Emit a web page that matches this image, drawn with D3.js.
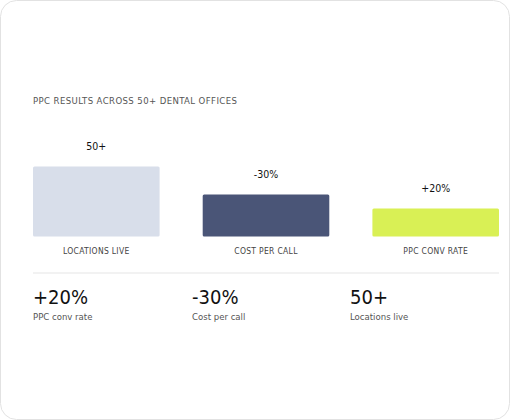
<!DOCTYPE html><html><head><meta charset="utf-8">
<script src="https://cdn.jsdelivr.net/npm/d3@7"></script>
<style>body{margin:0;background:#fff}text{font-family:"DejaVu Sans Condensed","DejaVu Sans",sans-serif}</style></head><body>
<svg id="c" width="510" height="420"></svg>
<script>
const categories=["LOCATIONS LIVE","COST PER CALL","PPC CONV RATE"];
const values=[50,30,20];
const valueLabels=["50+","-30%","+20%"];
const colors=["#d8deea","#4a5577","#d9f055"];
const statValues=["+20%","-30%","50+"];
const statLabels=["PPC conv rate","Cost per call","Locations live"];
const svg=d3.select("#c");
svg.append("rect").attr("x",0.5).attr("y",0.5).attr("width",509).attr("height",419).attr("rx",16).attr("fill","#fff").attr("stroke","#e2e2e2");
svg.append("text").attr("x",33).attr("y",104).attr("font-size",9.5).attr("letter-spacing",0.4).attr("fill","#555").text("PPC RESULTS ACROSS 50+ DENTAL OFFICES");
const x=d3.scaleBand().domain(categories).range([33,499]).paddingInner(0.5/2.5*1.27).paddingOuter(0);
const y=d3.scaleLinear().domain([0,50]).range([236.5,166.5]);
const g=svg.append("g");
g.selectAll("rect").data(values).join("rect").attr("x",(d,i)=>x(categories[i])).attr("width",x.bandwidth()).attr("y",d=>y(d)).attr("height",d=>y(0)-y(d)).attr("rx",1.5).attr("fill",(d,i)=>colors[i]);
g.selectAll(".vl").data(values).join("text").attr("x",(d,i)=>x(categories[i])+x.bandwidth()/2).attr("y",d=>y(d)-17).attr("text-anchor","middle").attr("font-size",10.5).attr("fill","#111").text((d,i)=>valueLabels[i]);
g.selectAll(".cl").data(categories).join("text").attr("x",d=>x(d)+x.bandwidth()/2).attr("y",254).attr("text-anchor","middle").attr("font-size",8.5).attr("letter-spacing",0.3).attr("fill","#444").text(d=>d);
svg.append("line").attr("x1",33).attr("x2",499).attr("y1",273).attr("y2",273).attr("stroke","#eee").attr("stroke-width",1.5);
const sx=[33,192,350];
statValues.forEach((s,i)=>{
svg.append("text").attr("x",sx[i]).attr("y",304).attr("font-size",20).attr("fill","#111").text(s);
svg.append("text").attr("x",sx[i]).attr("y",320).attr("font-size",9.5).attr("fill","#555").text(statLabels[i]);
});
</script></body></html>
